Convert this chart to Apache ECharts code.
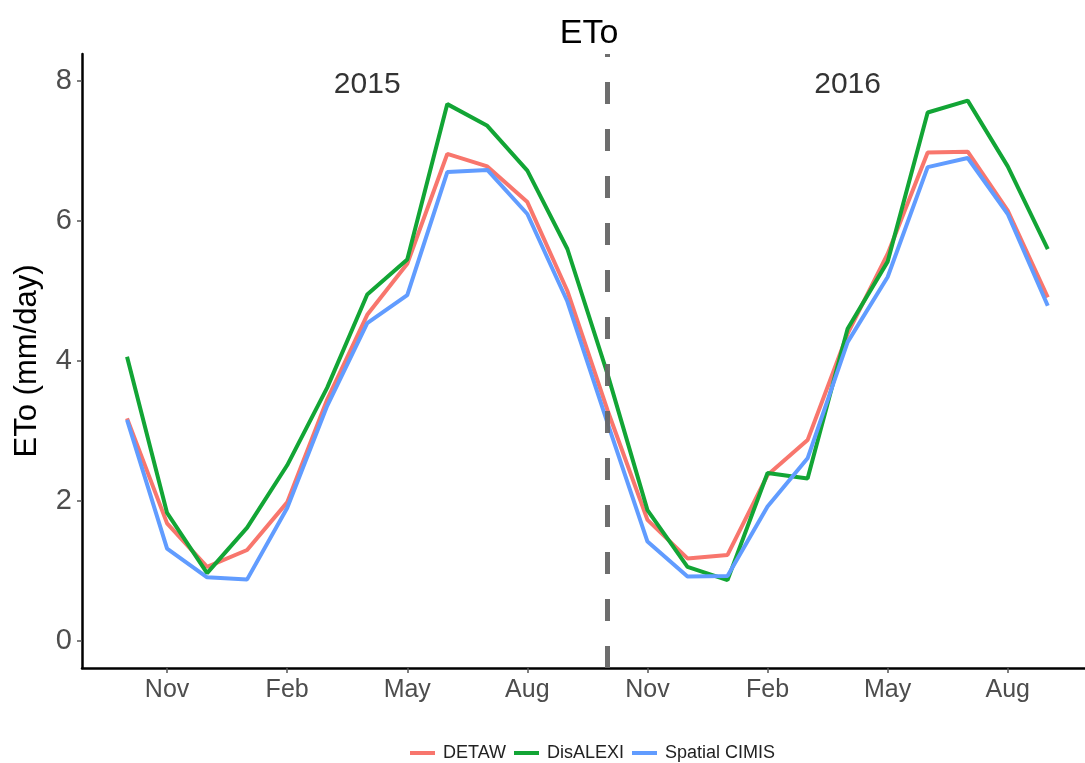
<!DOCTYPE html>
<html>
<head>
<meta charset="utf-8">
<script src="https://cdn.jsdelivr.net/npm/echarts@6/dist/echarts.min.js"></script>
<style>
html,body{margin:0;padding:0;background:#fff;}
#chart{width:1085px;height:763px;}
</style>
</head>
<body>
<div id="chart"></div>
<script>
// Months Oct 2014 .. Sep 2016 (index 0..23)
const months = ['2014-10','2014-11','2014-12','2015-01','2015-02','2015-03','2015-04','2015-05','2015-06','2015-07','2015-08','2015-09',
                '2015-10','2015-11','2015-12','2016-01','2016-02','2016-03','2016-04','2016-05','2016-06','2016-07','2016-08','2016-09'];
const detaw    = [3.18,1.68,1.06,1.30,1.98,3.45,4.66,5.39,6.96,6.78,6.27,5.00,3.30,1.73,1.18,1.23,2.37,2.87,4.39,5.53,6.98,6.99,6.15,4.91];
const disalexi = [4.06,1.83,0.97,1.62,2.51,3.62,4.95,5.45,7.67,7.36,6.72,5.60,3.82,1.87,1.06,0.87,2.40,2.32,4.46,5.42,7.55,7.72,6.78,5.60];
const cimis    = [3.16,1.32,0.91,0.88,1.90,3.36,4.54,4.94,6.70,6.73,6.10,4.85,3.12,1.42,0.92,0.93,1.92,2.61,4.27,5.20,6.77,6.90,6.10,4.79];
const xTickIdx    = [1,4,7,10,13,16,19,22];
const xTickLabels = ['Nov','Feb','May','Aug','Nov','Feb','May','Aug'];
const yTicks      = [0,2,4,6,8];
const seriesNames = ['DETAW','DisALEXI','Spatial CIMIS'];
const dividerIdx  = 12; // Oct 2015
const annotations = [{text:'2015', x:6, y:7.95},{text:'2016', x:18, y:7.95}];

const colors = ['#F8766D','#12A535','#619CFF'];
const font = "'Liberation Sans', Arial, sans-serif";
const toPairs = arr => arr.map((v,i)=>[i,v]);

const chart = echarts.init(document.getElementById('chart'), null, {renderer:'canvas'});
const lineSeries = [detaw, disalexi, cimis].map((arr,k)=>({
  name: seriesNames[k],
  type: 'line',
  data: toPairs(arr),
  showSymbol: false,
  symbol: 'none',
  smooth: false,
  lineStyle: {width: 4, color: colors[k]},
  itemStyle: {color: colors[k]},
  z: 3 + k,
  animation: false
}));
lineSeries[0].markLine = {
  silent: true,
  symbol: ['none','none'],
  label: {show:false},
  lineStyle: {type:[22,25], color:'#666666', width:5, opacity:0.95},
  data: [{xAxis: dividerIdx}],
  animation: false,
  z: 10
};
const annSeries = {
  type: 'scatter',
  data: annotations.map(a=>({value:[a.x,a.y], name:a.text})),
  symbolSize: 1,
  itemStyle: {color:'rgba(0,0,0,0)'},
  label: {show:true, position:'inside', formatter: p=>p.name, color:'#000', fontSize:30, fontFamily:font},
  silent: true,
  animation: false
};

chart.setOption({
  backgroundColor: '#fff',
  animation: false,
  title: {
    text: 'ETo', left: 584, textAlign: 'center', top: 12,
    textStyle: {fontSize: 34, fontWeight: 'normal', color: '#000', fontFamily: font}
  },
  legend: {
    data: seriesNames,
    top: 739, left: 405,
    icon: 'rect', itemWidth: 25, itemHeight: 4, itemGap: 8,
    textStyle: {fontSize: 18, color: '#222', fontFamily: font, padding:[0,0,0,3]}
  },
  grid: {left: 82, right: 0, top: 54, bottom: 95},
  xAxis: {
    type: 'value', min: -1.125, max: 23.93,
    axisLine: {onZero:false, lineStyle:{color:'#000', width:2.5}},
    axisTick: {show:true, customValues: xTickIdx, length:5, lineStyle:{color:'#555', width:1.5}},
    axisLabel: {customValues: xTickIdx, margin: 10, fontSize: 25, color: '#4d4d4d', fontFamily: font,
      formatter: v => { const i = xTickIdx.indexOf(Math.round(v)); return i>=0 ? xTickLabels[i] : ''; }},
    splitLine: {show:false}
  },
  yAxis: {
    type: 'value', min: -0.386, max: 8.386,
    name: 'ETo (mm/day)', nameLocation: 'middle', nameGap: 39, nameRotate: 90,
    nameTextStyle: {fontSize: 31, color: '#000', fontFamily: font},
    axisLine: {show:true, onZero:false, lineStyle:{color:'#000', width:2.5}},
    axisTick: {show:true, customValues: yTicks, length:5, lineStyle:{color:'#555', width:1.5}},
    axisLabel: {customValues: yTicks, margin: 10, fontSize: 29, color: '#4d4d4d', fontFamily: font},
    splitLine: {show:false}
  },
  series: [...lineSeries, annSeries]
});
</script>
</body>
</html>
